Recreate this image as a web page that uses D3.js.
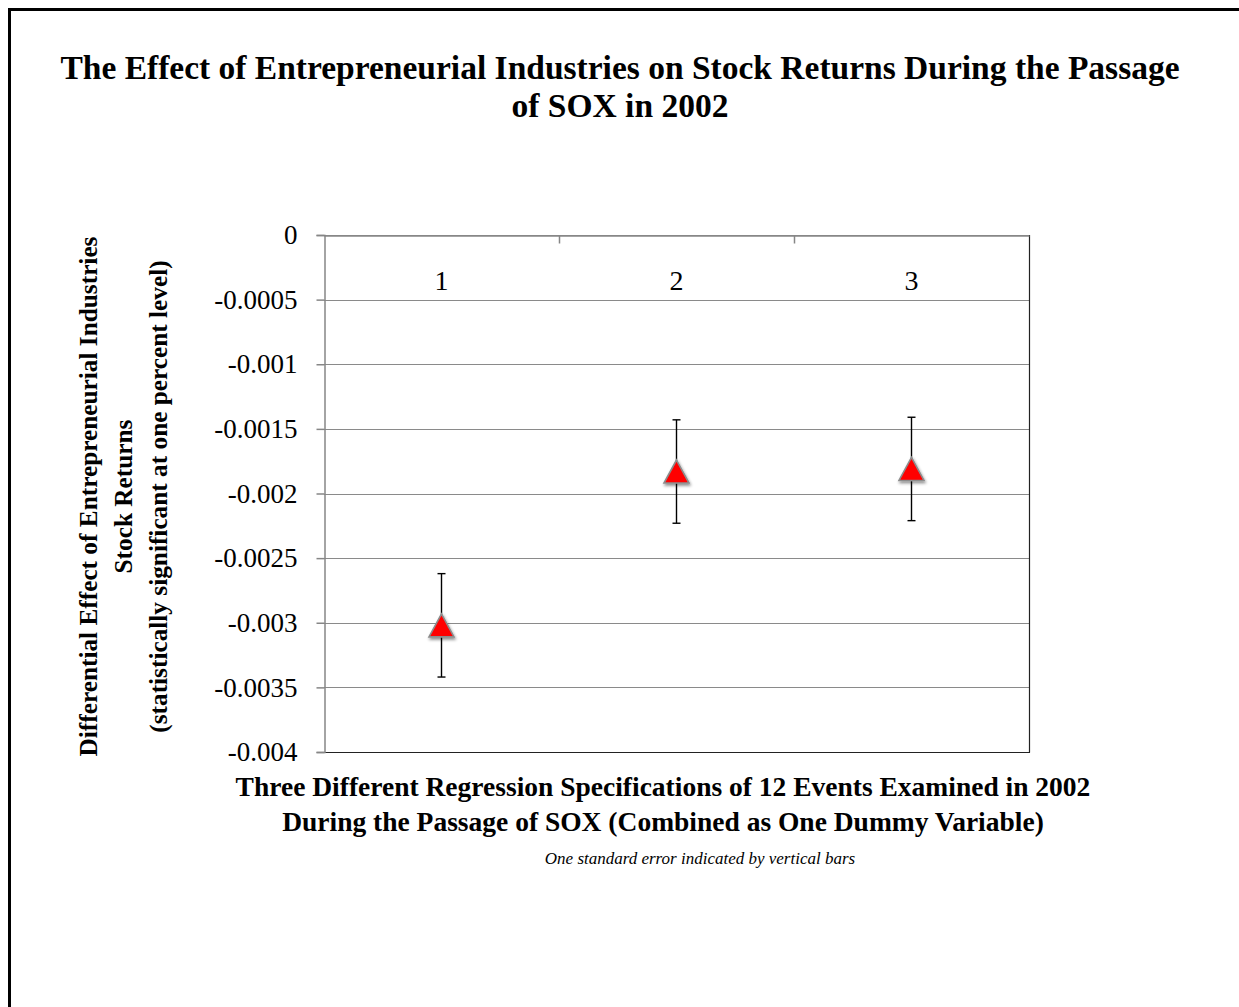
<!DOCTYPE html>
<html>
<head>
<meta charset="utf-8">
<script src="https://cdn.jsdelivr.net/npm/d3@7"></script>
<style>
  html, body { margin: 0; padding: 0; background: #fff; }
  svg { display: block; font-family: "Liberation Serif", "Times New Roman", serif; }
</style>
</head>
<body>
<svg id="chart" width="1239" height="1007"></svg>
<script>
// Regression specifications and their estimated coefficients
const specs = ["1", "2", "3"];
const coefficients = [-0.00302, -0.00183, -0.00181];
const standardErrors = [0.0004, 0.0004, 0.0004];

// Vertical axis ticks and their printed labels
const yTicks = [0, -0.0005, -0.001, -0.0015, -0.002, -0.0025, -0.003, -0.0035, -0.004];
const yTickLabels = ["0", "-0.0005", "-0.001", "-0.0015", "-0.002", "-0.0025", "-0.003", "-0.0035", "-0.004"];

const titleLines = [
  "The Effect of Entrepreneurial Industries on Stock Returns During the Passage",
  "of SOX in 2002"
];
const yTitleLines = [
  "Differential Effect of Entrepreneurial Industries",
  "Stock Returns",
  "(statistically significant at one percent level)"
];
const xTitleLines = [
  "Three Different Regression Specifications of 12 Events Examined in 2002",
  "During the Passage of SOX (Combined as One Dummy Variable)"
];
const note = "One standard error indicated by vertical bars";

const svg = d3.select("#chart");

// Outer frame (extends past the right and bottom edges)
svg.append("rect")
  .attr("x", 9.5).attr("y", 9.5)
  .attr("width", 1400).attr("height", 1200)
  .attr("fill", "none").attr("stroke", "#000").attr("stroke-width", 3);

const plot = { left: 324, right: 1029, top: 235, bottom: 752 };

const x = d3.scaleBand().domain(specs).range([plot.left, plot.right]).padding(0);
const y = d3.scaleLinear().domain([-0.004, 0]).range([plot.bottom, plot.top]);

// Drop shadow for markers
const defs = svg.append("defs");
const f = defs.append("filter").attr("id", "shadow")
  .attr("x", "-50%").attr("y", "-50%").attr("width", "200%").attr("height", "200%");
f.append("feDropShadow").attr("dx", 1).attr("dy", 2).attr("stdDeviation", 1.5)
  .attr("flood-color", "#000").attr("flood-opacity", 0.45);

// Horizontal gridlines
svg.append("g").selectAll("line")
  .data(yTicks.filter(v => v !== -0.004))
  .join("line")
  .attr("x1", plot.left).attr("x2", plot.right)
  .attr("y1", d => Math.round(y(d)) + 0.5).attr("y2", d => Math.round(y(d)) + 0.5)
  .attr("stroke", "#8a8a8a").attr("stroke-width", 1);

// Plot frame: right and bottom edges
svg.append("line")
  .attr("x1", plot.right + 0.5).attr("x2", plot.right + 0.5)
  .attr("y1", plot.top).attr("y2", plot.bottom + 0.5)
  .attr("stroke", "#222").attr("stroke-width", 1.2);
svg.append("line")
  .attr("x1", plot.left).attr("x2", plot.right + 1)
  .attr("y1", plot.bottom + 0.5).attr("y2", plot.bottom + 0.5)
  .attr("stroke", "#222").attr("stroke-width", 1.2);

// Y axis
const yAxis = d3.axisLeft(y)
  .tickValues(yTicks)
  .tickSize(8)
  .tickPadding(19)
  .tickFormat((d, i) => yTickLabels[i]);
const gy = svg.append("g")
  .attr("transform", `translate(${plot.left + 0.5},0)`)
  .call(yAxis);
gy.select(".domain").attr("stroke", "#868686").attr("stroke-width", 1.5);
gy.selectAll(".tick line").attr("stroke", "#868686").attr("stroke-width", 1.5);
gy.selectAll(".tick text")
  .attr("font-family", "Liberation Serif, Times New Roman, serif")
  .attr("font-size", 27).attr("fill", "#000");

// X axis along the zero line, ticks between categories
const xAxis = d3.axisBottom(x).tickSize(0).tickPadding(35);
const gx = svg.append("g")
  .attr("transform", `translate(0,${plot.top + 0.5})`)
  .call(xAxis);
gx.select(".domain").attr("stroke", "#868686").attr("stroke-width", 1.5);
gx.selectAll(".tick text")
  .attr("font-family", "Liberation Serif, Times New Roman, serif")
  .attr("font-size", 28).attr("fill", "#000")
  .attr("dy", "0.71em");
gx.selectAll(".sep")
  .data(specs.slice(1))
  .join("line")
  .attr("class", "sep")
  .attr("x1", d => Math.round(x(d)) + 0.5).attr("x2", d => Math.round(x(d)) + 0.5)
  .attr("y1", 0).attr("y2", 8)
  .attr("stroke", "#868686").attr("stroke-width", 1.5);

// Error bars (one standard error)
const cx = i => x(specs[i]) + x.bandwidth() / 2;
const bars = svg.append("g").selectAll("g")
  .data(coefficients.map((v, i) => ({ v, se: standardErrors[i], i })))
  .join("g");
bars.append("line")
  .attr("x1", d => cx(d.i)).attr("x2", d => cx(d.i))
  .attr("y1", d => y(d.v + d.se)).attr("y2", d => y(d.v - d.se))
  .attr("stroke", "#000").attr("stroke-width", 1.4);
bars.append("line")
  .attr("x1", d => cx(d.i) - 4).attr("x2", d => cx(d.i) + 4)
  .attr("y1", d => y(d.v + d.se)).attr("y2", d => y(d.v + d.se))
  .attr("stroke", "#000").attr("stroke-width", 1.4);
bars.append("line")
  .attr("x1", d => cx(d.i) - 4).attr("x2", d => cx(d.i) + 4)
  .attr("y1", d => y(d.v - d.se)).attr("y2", d => y(d.v - d.se))
  .attr("stroke", "#000").attr("stroke-width", 1.4);

// Triangle markers centred on each coefficient
const half = 12.5, h = 23;
bars.append("path")
  .attr("d", d => {
    const px = cx(d.i), py = y(d.v);
    return `M${px},${py - h / 2}L${px + half},${py + h / 2}L${px - half},${py + h / 2}Z`;
  })
  .attr("fill", "#ff0000")
  .attr("stroke", "#8c8c8c").attr("stroke-width", 1.6)
  .attr("stroke-linejoin", "miter")
  .attr("filter", "url(#shadow)");

// Chart title
svg.append("text")
  .attr("text-anchor", "middle")
  .attr("font-weight", "bold").attr("font-size", 33.5)
  .selectAll("tspan").data(titleLines).join("tspan")
  .attr("x", 620).attr("y", (d, i) => 79 + i * 38)
  .text(d => d);

// Vertical axis title
svg.append("g").selectAll("text").data(yTitleLines).join("text")
  .attr("transform", (d, i) => `translate(${97 + i * 35},${(plot.top + plot.bottom) / 2 + 3}) rotate(-90)`)
  .attr("text-anchor", "middle")
  .attr("font-weight", "bold").attr("font-size", 25.3)
  .text(d => d);

// Horizontal axis title
svg.append("text")
  .attr("text-anchor", "middle")
  .attr("font-weight", "bold").attr("font-size", 27.5)
  .selectAll("tspan").data(xTitleLines).join("tspan")
  .attr("x", 663).attr("y", (d, i) => 796 + i * 35)
  .text(d => d);

// Note
svg.append("text")
  .attr("x", 700).attr("y", 864)
  .attr("text-anchor", "middle")
  .attr("font-style", "italic").attr("font-size", 17)
  .text(note);
</script>
</body>
</html>
